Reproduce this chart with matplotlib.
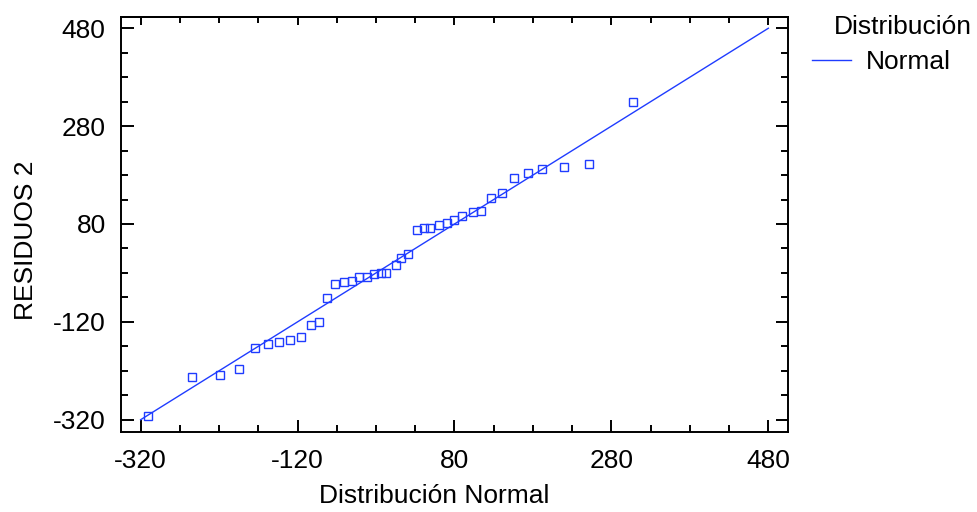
import matplotlib
matplotlib.use("Agg")
import matplotlib.pyplot as plt
from matplotlib.ticker import MultipleLocator

plt.rcParams['font.family'] = ['Liberation Sans', 'DejaVu Sans']
plt.rcParams['axes.unicode_minus'] = False

# cuantiles de la distribucion normal (eje x) vs residuos ordenados (eje y)
normal_q = [-311, -254, -219, -195, -174, -158, -143, -129, -115, -103,
            -93, -82, -72, -61, -51, -42, -32, -23, -14, -7,
            5, 12, 21, 32, 41, 49, 60, 70, 80, 90,
            103, 114, 127, 141, 156, 174, 192, 219, 252, 308]
residuos = [-312, -232, -228, -216, -173, -165, -161, -157, -151, -126,
            -120, -71, -42, -38, -36, -28, -28, -22, -20, -20,
            -4, 11, 19, 68, 72, 72, 78, 82, 88, 96,
            104, 107, 133, 143, 174, 184, 192, 196, 202, 329]
linea_x = [-320, 480]
linea_y = [-320, 480]
ticks = [-320, -120, 80, 280, 480]

azul = '#1f3cff'
fs = 19

fig = plt.figure(figsize=(9.78, 5.12), dpi=100)
ax = fig.add_axes([0.1237, 0.1563, 0.6820, 0.8105])

ax.plot(normal_q, residuos, linestyle='none', marker='s', markersize=5.5,
        markerfacecolor='none', markeredgecolor=azul, markeredgewidth=1.0)
ax.plot(linea_x, linea_y, color=azul, linewidth=1.0, label='Normal')

ax.set_xlim(-345, 505)
ax.set_ylim(-345, 503)
ax.set_xticks(ticks)
ax.set_yticks(ticks)
ax.xaxis.set_minor_locator(MultipleLocator(50, offset=30))
ax.yaxis.set_minor_locator(MultipleLocator(50, offset=30))

for s in ax.spines.values():
    s.set_linewidth(1.4)

ax.tick_params(axis='both', which='both', direction='in', width=1.4, labelsize=fs)
ax.tick_params(axis='y', which='major', length=9, right=True, pad=11)
ax.tick_params(axis='y', which='minor', length=5, right=True)
ax.tick_params(axis='x', which='major', length=9, top=False, pad=12)
ax.tick_params(axis='x', which='minor', length=5, top=False)

# ticks superiores mas cortos
top = ax.secondary_xaxis('top')
top.set_xticks(ticks)
top.xaxis.set_minor_locator(MultipleLocator(50, offset=30))
top.tick_params(which='major', direction='in', length=6, width=1.4, labeltop=False)
top.tick_params(which='minor', direction='in', length=4, width=1.4)
top.spines['top'].set_linewidth(1.4)

ax.set_xlabel('Distribución Normal', fontsize=fs)
ax.xaxis.set_label_coords(0.469, -0.125)
ax.set_ylabel('RESIDUOS 2', fontsize=fs)
ax.yaxis.set_label_coords(-0.125, 0.463)

fig.text(0.994, 0.97, 'Distribución', fontsize=fs, ha='right', va='top')
fig.legend(loc='upper right', bbox_to_anchor=(0.983, 0.922), fontsize=fs,
           frameon=False, handlelength=1.5, handletextpad=0.55, borderaxespad=0.0)

fig.savefig('out.png', dpi=100)
